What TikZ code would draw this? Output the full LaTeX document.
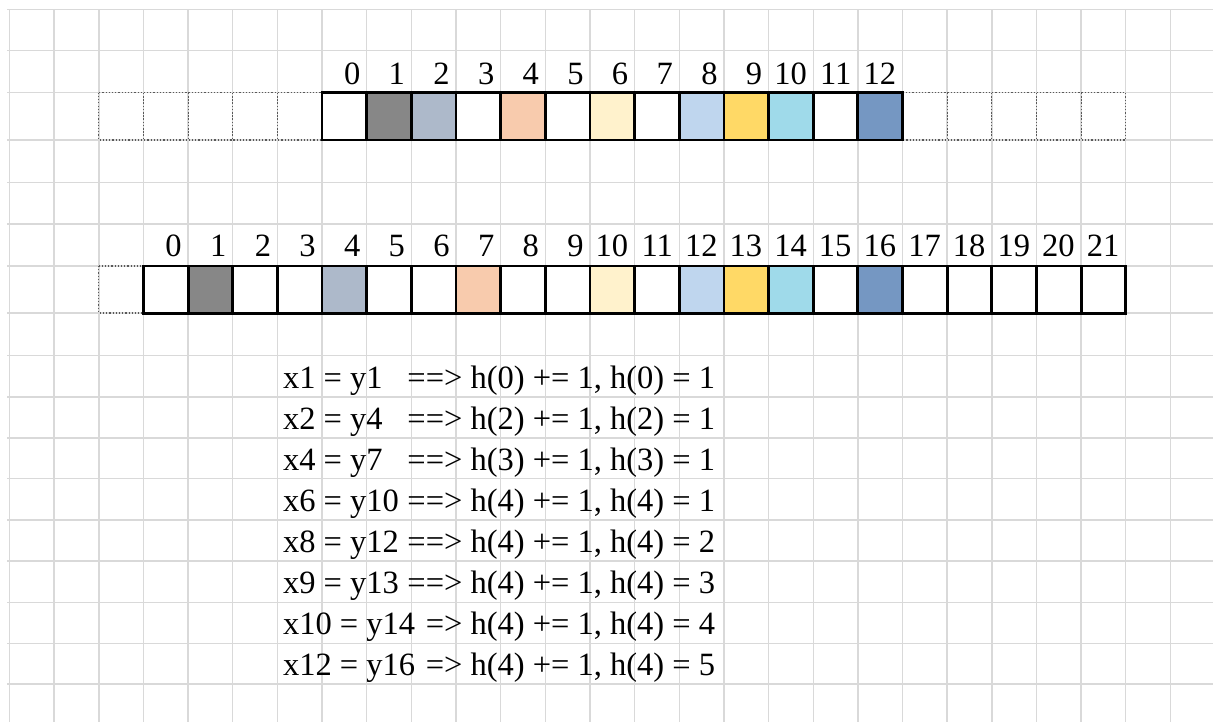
\documentclass[tikz,border=0pt]{standalone}
\usepackage{fontspec}
\setmainfont{Liberation Serif}

\definecolor{gridgray}{HTML}{D9D9D9}
\definecolor{cgray}{HTML}{878787}
\definecolor{cslate}{HTML}{ADB9CA}
\definecolor{cpeach}{HTML}{F8CBAD}
\definecolor{ccream}{HTML}{FFF2CC}
\definecolor{csky}{HTML}{BFD6EE}
\definecolor{cgold}{HTML}{FFD966}
\definecolor{ccyan}{HTML}{9FDAEA}
\definecolor{csteel}{HTML}{7597C2}

\tikzset{
  gridline/.style={draw=gridgray, line width=0.7pt},
  ghostcell/.style={draw=black!65, densely dotted, line width=0.6pt},
  cell/.style={draw, line width=1.4pt, minimum width=22.325pt,
    minimum height=23.6pt, inner sep=0pt},
  idx/.style={anchor=base east, inner sep=0pt,
    font=\fontsize{16.25}{19}\selectfont},
  eqline/.style={anchor=base west, inner sep=0pt,
    font=\fontsize{16.25}{19}\selectfont}
}

\begin{document}
\begin{tikzpicture}[x=0.5pt, y=-0.5pt]
    \useasboundingbox (0,0) rectangle (1213,722);

    % Sheet grid
    \foreach \c in {0,...,26}
        \draw[gridline] ({9.5+44.65*\c},9.3) -- ({9.5+44.65*\c},722);
    \foreach \y in {9.3,50.7,92.7,140,182.3,224,266,313,355.5,397,438,478.5,520,561,602.3,643.3,684}
        \draw[gridline] (7,\y) -- (1213,\y);

    % Dotted empty cells
    \foreach \c in {2,...,6,20,21,22,23,24}
        \draw[ghostcell] ({9.5+44.65*\c},92.7) rectangle ({9.5+44.65*(\c+1)},140);
    \draw[ghostcell] ({9.5+44.65*2},266) rectangle ({9.5+44.65*3},313);

    % Top array x
    \foreach \i/\col in {0/white,1/cgray,2/cslate,3/white,4/cpeach,5/white,6/ccream,
                         7/white,8/csky,9/cgold,10/ccyan,11/white,12/csteel} {
        \node[cell, fill=\col] (x\i) at ({9.5+44.65*(7+\i)+22.325},116.35) {};
        \node[idx] (lx\i) at ({9.5+44.65*(8+\i)-6},84.5) {\i};
    }

    % Bottom array y
    \foreach \i/\col in {0/white,1/cgray,2/white,3/white,4/cslate,5/white,6/white,
                         7/cpeach,8/white,9/white,10/ccream,11/white,12/csky,13/cgold,
                         14/ccyan,15/white,16/csteel,17/white,18/white,19/white,20/white,21/white} {
        \node[cell, fill=\col] (y\i) at ({9.5+44.65*(3+\i)+22.325},289.65) {};
        \node[idx] (ly\i) at ({9.5+44.65*(4+\i)-6},256.5) {\i};
    }

    % Matches
    \foreach \n/\y/\l/\r in {
        1/388.5/{x1 = y1}/{==> h(0) += 1, h(0) = 1},
        2/429.5/{x2 = y4}/{==> h(2) += 1, h(2) = 1},
        3/470/{x4 = y7}/{==> h(3) += 1, h(3) = 1},
        4/511.5/{x6 = y10}/{==> h(4) += 1, h(4) = 1},
        5/552.5/{x8 = y12}/{==> h(4) += 1, h(4) = 2},
        6/593.8/{x9 = y13}/{==> h(4) += 1, h(4) = 3},
        7/634.8/{x10 = y14}/{=> h(4) += 1, h(4) = 4},
        8/675.5/{x12 = y16}/{=> h(4) += 1, h(4) = 5}}
        \node[eqline] (m\n) at (282.7,\y) {\hbox to 216pt{\l\hfill\r}};
\end{tikzpicture}
\end{document}
